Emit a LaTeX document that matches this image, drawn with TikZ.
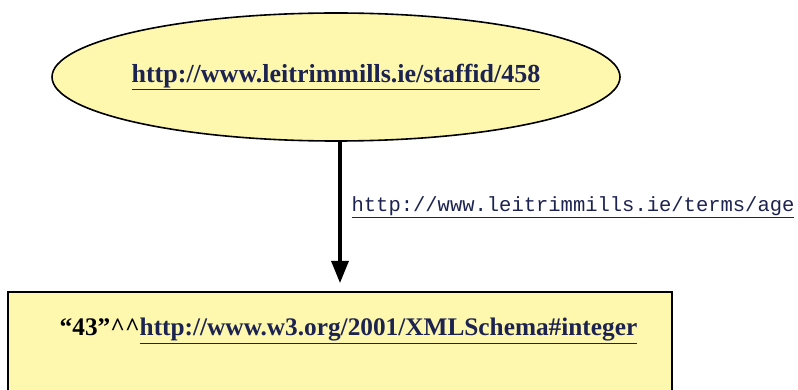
\documentclass[tikz,border=0pt]{standalone}
\usepackage{fontspec}
\usetikzlibrary{arrows.meta, shapes.geometric}
\newfontfamily\uriserif{Liberation Serif}
\newfontfamily\urimono{Liberation Mono}
\definecolor{nodefill}{HTML}{FEF7AE}
\definecolor{urinavy}{HTML}{1C2350}
\newcommand{\uri}[1]{\textcolor{urinavy}{\underline{#1}}}
\begin{document}
\begin{tikzpicture}[
		x=1pt, y=-1pt,
		resource/.style={draw, ellipse, line width=1.6pt, fill=nodefill, minimum width=568pt, minimum height=128pt, inner xsep=-8pt, inner ysep=0pt, font=\uriserif\bfseries\fontsize{26}{30}\selectfont},
		literal/.style={draw, rectangle, line width=1.6pt, fill=nodefill, minimum width=664pt, inner sep=0pt, text height=44pt, text depth=70pt, font=\uriserif\bfseries\fontsize{25.3}{30}\selectfont},
		property/.style={font=\urimono\fontsize{20.5}{24}\selectfont, inner sep=0pt}
		]
		
		\clip (0,0) rectangle (798,390);
		\fill[white] (0,0) rectangle (798,390);
		
		\node[resource] (staff) at (336,77) {\uri{http://www.leitrimmills.ie/staffid/458}};
		\node[literal, anchor=north] (age) at (340,291) {\hspace*{17pt}“43”\string^\string^\uri{http://www.w3.org/2001/XMLSchema\#integer}};
		
		\draw[line width=3.2pt, -{Triangle[length=22pt, width=17pt]}, shorten >=8pt] (staff.south -| age.north) -- node[property, right=10pt, pos=0.44] {\uri{http://www.leitrimmills.ie/terms/age}} (age.north);
		
	\end{tikzpicture}
\end{document}
